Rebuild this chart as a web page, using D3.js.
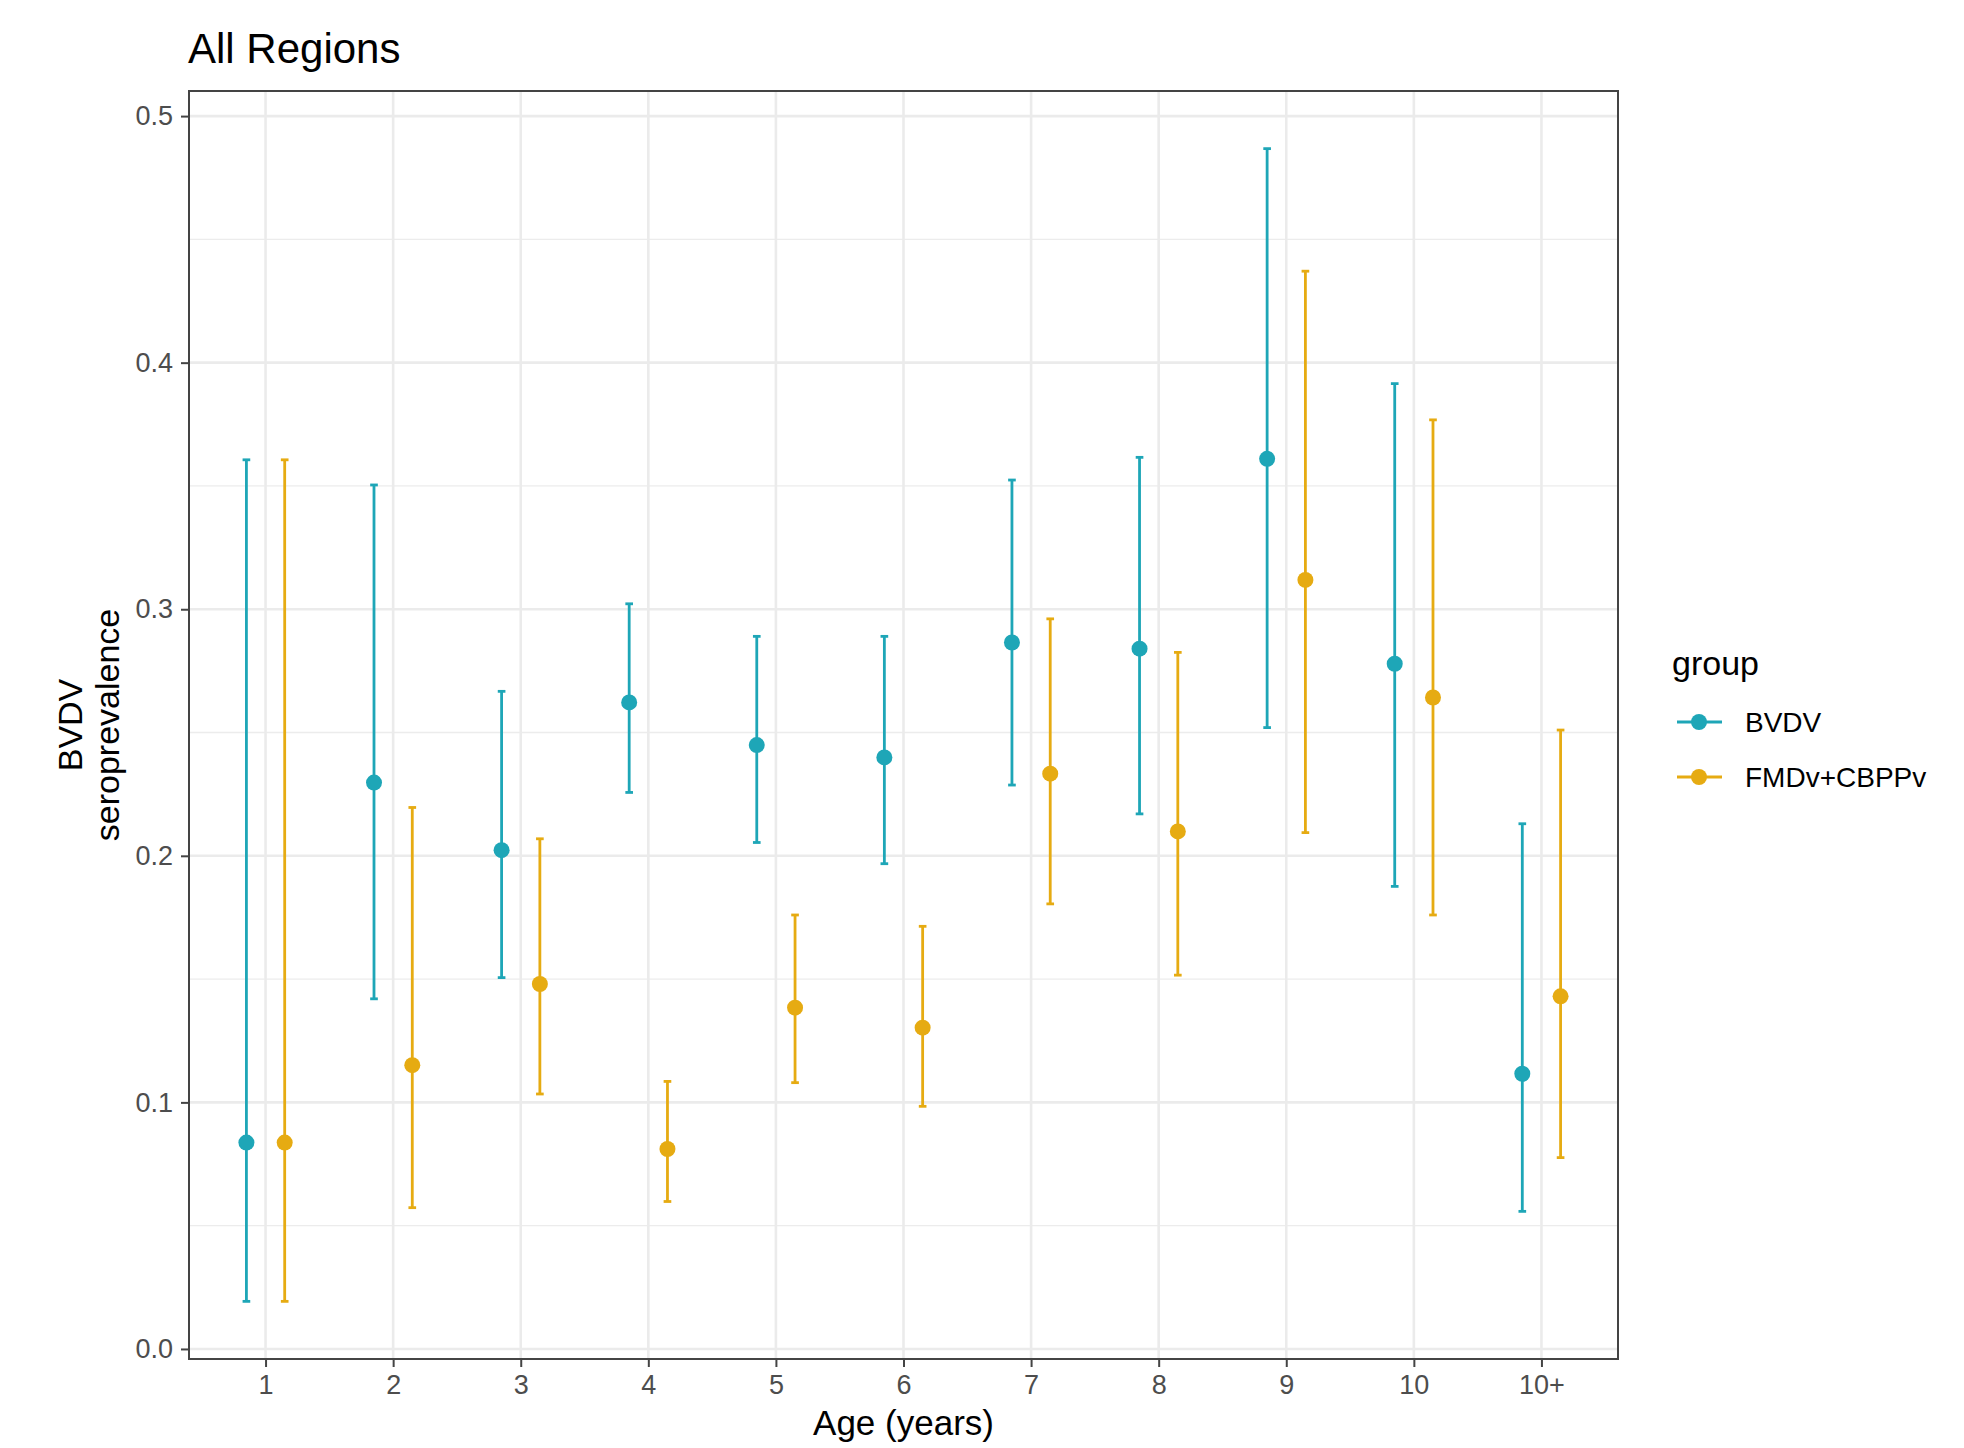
<!DOCTYPE html>
<html>
<head>
<meta charset="utf-8">
<script src="https://cdn.jsdelivr.net/npm/d3@7"></script>
<style>
  body { margin: 0; background: #fff; }
  text { font-family: "Liberation Sans", Arial, sans-serif; }
</style>
</head>
<body>
<script>
// data
var ages = ["1", "2", "3", "4", "5", "6", "7", "8", "9", "10", "10+"];
var groups = ["BVDV", "FMDv+CBPPv"];
var colors = ["#1ea6b7", "#e6ab12"];

var bvdvPrev  = [0.0837, 0.2297, 0.2023, 0.2622, 0.2449, 0.2399, 0.2865, 0.2840, 0.3610, 0.2779, 0.1116];
var bvdvLower = [0.0193, 0.1420, 0.1506, 0.2257, 0.2054, 0.1968, 0.2287, 0.2170, 0.2520, 0.1876, 0.0558];
var bvdvUpper = [0.3606, 0.3504, 0.2667, 0.3022, 0.2890, 0.2890, 0.3524, 0.3616, 0.4868, 0.3915, 0.2130];

var fmdPrev  = [0.0837, 0.1151, 0.1480, 0.0811, 0.1384, 0.1303, 0.2333, 0.2099, 0.3119, 0.2642, 0.1430];
var fmdLower = [0.0193, 0.0573, 0.1034, 0.0598, 0.1080, 0.0984, 0.1805, 0.1516, 0.2094, 0.1760, 0.0776];
var fmdUpper = [0.3606, 0.2196, 0.2069, 0.1085, 0.1760, 0.1714, 0.2961, 0.2825, 0.4371, 0.3768, 0.2510];

var yTicks = [0, 0.1, 0.2, 0.3, 0.4, 0.5];
var yMinor = [0.05, 0.15, 0.25, 0.35, 0.45];

var rows = [];
ages.forEach(function(a, i) {
  rows.push({age: a, g: 0, p: bvdvPrev[i], lo: bvdvLower[i], hi: bvdvUpper[i]});
  rows.push({age: a, g: 1, p: fmdPrev[i], lo: fmdLower[i], hi: fmdUpper[i]});
});

var W = 1964, H = 1448;
var panel = {left: 189, right: 1618, top: 91, bottom: 1359};

var svg = d3.select("body").append("svg")
  .attr("width", W)
  .attr("height", H);

svg.append("rect").attr("width", W).attr("height", H).attr("fill", "#fff");

// scales
var x = d3.scalePoint()
  .domain(ages)
  .range([panel.left, panel.right])
  .padding(0.6);

var lo = d3.min(rows, function(d) { return d.lo; });
var hi = d3.max(rows, function(d) { return d.hi; });
var pad = (hi - lo) * 0.05;
var y = d3.scaleLinear()
  .domain([lo - pad, hi + pad])
  .range([panel.bottom, panel.top]);

var dodge = x.step() * 0.15;
var capW = x.step() * 0.03;

function xPos(d) { return x(d.age) + (d.g === 0 ? -dodge : dodge); }

// grid
var grid = svg.append("g");
grid.selectAll(".minor").data(yMinor).enter().append("line")
  .attr("x1", panel.left).attr("x2", panel.right)
  .attr("y1", function(d) { return y(d); })
  .attr("y2", function(d) { return y(d); })
  .attr("stroke", "#ececec").attr("stroke-width", 1.3);
grid.selectAll(".major").data(yTicks).enter().append("line")
  .attr("x1", panel.left).attr("x2", panel.right)
  .attr("y1", function(d) { return y(d); })
  .attr("y2", function(d) { return y(d); })
  .attr("stroke", "#ebebeb").attr("stroke-width", 2.6);
grid.selectAll(".vmajor").data(ages).enter().append("line")
  .attr("x1", function(d) { return x(d); })
  .attr("x2", function(d) { return x(d); })
  .attr("y1", panel.top).attr("y2", panel.bottom)
  .attr("stroke", "#ebebeb").attr("stroke-width", 2.6);

// error bars
var bars = svg.append("g");
bars.selectAll(".bar").data(rows).enter().append("line")
  .attr("x1", xPos).attr("x2", xPos)
  .attr("y1", function(d) { return y(d.lo); })
  .attr("y2", function(d) { return y(d.hi); })
  .attr("stroke", function(d) { return colors[d.g]; })
  .attr("stroke-width", 2.8);
["lo", "hi"].forEach(function(k) {
  bars.selectAll(".cap" + k).data(rows).enter().append("line")
    .attr("x1", function(d) { return xPos(d) - capW; })
    .attr("x2", function(d) { return xPos(d) + capW; })
    .attr("y1", function(d) { return y(d[k]); })
    .attr("y2", function(d) { return y(d[k]); })
    .attr("stroke", function(d) { return colors[d.g]; })
    .attr("stroke-width", 2.8);
});

// points
svg.append("g").selectAll("circle").data(rows).enter().append("circle")
  .attr("cx", xPos)
  .attr("cy", function(d) { return y(d.p); })
  .attr("r", 8)
  .attr("fill", function(d) { return colors[d.g]; });

// panel border
svg.append("rect")
  .attr("x", panel.left).attr("y", panel.top)
  .attr("width", panel.right - panel.left)
  .attr("height", panel.bottom - panel.top)
  .attr("fill", "none").attr("stroke", "#444").attr("stroke-width", 2);

// axes
var yAxis = svg.append("g")
  .attr("transform", "translate(" + panel.left + ",0)")
  .call(d3.axisLeft(y).tickValues(yTicks).tickFormat(d3.format(".1f")).tickSize(8).tickPadding(8));
var xAxis = svg.append("g")
  .attr("transform", "translate(0," + panel.bottom + ")")
  .call(d3.axisBottom(x).tickSize(8).tickPadding(8));
[xAxis, yAxis].forEach(function(a) {
  a.select(".domain").remove();
  a.selectAll(".tick line").attr("stroke", "#444").attr("stroke-width", 2);
  a.selectAll(".tick text")
    .attr("fill", "#4d4d4d")
    .style("font-size", "27px")
    .style("font-family", "Liberation Sans, Arial, sans-serif");
});

// titles
svg.append("text")
  .attr("x", 188).attr("y", 63)
  .style("font-size", "42px")
  .attr("fill", "#000")
  .text("All Regions");

svg.append("text")
  .attr("x", (panel.left + panel.right) / 2).attr("y", 1435)
  .attr("text-anchor", "middle")
  .style("font-size", "35px")
  .text("Age (years)");

var yTitle = svg.append("text")
  .attr("transform", "translate(82," + ((panel.top + panel.bottom) / 2) + ") rotate(-90)")
  .attr("text-anchor", "middle")
  .style("font-size", "34px");
yTitle.append("tspan").attr("x", 0).attr("y", 0).text("BVDV");
yTitle.append("tspan").attr("x", 0).attr("y", 37).text("seroprevalence");

// legend
var legend = svg.append("g").attr("transform", "translate(1672,0)");
legend.append("text")
  .attr("x", 0).attr("y", 675)
  .style("font-size", "34px")
  .text("group");
var keys = legend.selectAll(".key").data(groups).enter().append("g")
  .attr("transform", function(d, i) { return "translate(0," + (722 + i * 55) + ")"; });
keys.append("line")
  .attr("x1", 5).attr("x2", 50)
  .attr("stroke", function(d, i) { return colors[i]; })
  .attr("stroke-width", 2.8);
keys.append("circle")
  .attr("cx", 27).attr("r", 8)
  .attr("fill", function(d, i) { return colors[i]; });
keys.append("text")
  .attr("x", 73).attr("y", 10)
  .style("font-size", "28px")
  .attr("fill", "#000")
  .text(function(d) { return d; });
</script>
</body>
</html>
